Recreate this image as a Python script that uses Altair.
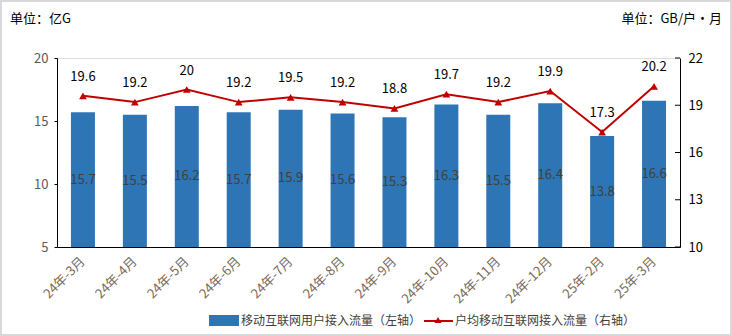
import altair as alt
import pandas as pd

months = ["24年-3月", "24年-4月", "24年-5月", "24年-6月", "24年-7月", "24年-8月",
          "24年-9月", "24年-10月", "24年-11月", "24年-12月", "25年-2月", "25年-3月"]
total_traffic = [15.7, 15.5, 16.2, 15.7, 15.9, 15.6, 15.3, 16.3, 15.5, 16.4, 13.8, 16.6]
per_user = [19.6, 19.2, 20.0, 19.2, 19.5, 19.2, 18.8, 19.7, 19.2, 19.9, 17.3, 20.2]
left_ticks = [5, 10, 15, 20]
right_ticks = [10, 13, 16, 19, 22]

df = pd.DataFrame({"month": months, "total": total_traffic, "per": per_user})
df["base"] = 5
df["mid"] = [(v + 5) / 2 for v in total_traffic]
rt = pd.DataFrame({"t": right_ticks})
one = pd.DataFrame({"a": [0]})

FONT = "Noto Sans CJK SC"
W, H = 623, 189
BLUE = "#2E75B6"
RED = "#C00000"

xenc = alt.X("month:N", sort=months, title=None,
             scale=alt.Scale(paddingInner=0, paddingOuter=0),
             axis=alt.Axis(labelAngle=-45, labelAlign="right", labelBaseline="middle",
                           labelPadding=12, ticks=False, domainColor="#000000",
                           labelColor="#7a6a5a", labelFontSize=13, labelFont=FONT))

yleft = alt.Scale(domain=[5, 20], nice=False, zero=False)
yright = alt.Scale(domain=[10, 22], nice=False, zero=False)

bars = alt.Chart(df).mark_bar(size=24, color=BLUE, clip=True).encode(
    x=xenc,
    y=alt.Y("total:Q", scale=yleft, title=None,
            axis=alt.Axis(values=left_ticks, grid=False, domainColor="#000000",
                          tickColor="#000000", tickSize=3, labelColor="#595959",
                          labelFontSize=13, labelFont=FONT, labelPadding=6)),
    y2="base:Q",
)

bar_labels = alt.Chart(df).mark_text(font=FONT, fontSize=13, color="#404040",
                                     baseline="middle").encode(
    x=alt.X("month:N", sort=months),
    y=alt.Y("mid:Q", scale=yleft, axis=None),
    text=alt.Text("total:Q", format=".1f"),
)

line = alt.Chart(df).mark_line(color=RED, strokeWidth=2).encode(
    x=alt.X("month:N", sort=months),
    y=alt.Y("per:Q", scale=yright, title=None,
            axis=alt.Axis(values=right_ticks, grid=False, orient="right",
                          domainColor="#000000", ticks=False, labelColor="#000000",
                          labelFontSize=13, labelFont=FONT, labelPadding=8)),
)

pts = alt.Chart(df).mark_point(shape="triangle-up", filled=True, color=RED, size=60,
                               opacity=1).encode(
    x=alt.X("month:N", sort=months),
    y=alt.Y("per:Q", scale=yright, axis=None),
)

line_labels = alt.Chart(df).mark_text(font=FONT, fontSize=13, color="#000000",
                                      baseline="middle", dy=-19).encode(
    x=alt.X("month:N", sort=months),
    y=alt.Y("per:Q", scale=yright, axis=None),
    text=alt.Text("per:Q", format=".1~f"),
)

rticks = alt.Chart(rt).mark_rule(color="#000000").encode(
    x=alt.value(W - 5), x2=alt.value(W),
    y=alt.Y("t:Q", scale=yright, axis=None),
)

title_l = alt.Chart(one).mark_text(font=FONT, fontSize=13, color="#000000",
                                   align="left", baseline="middle").encode(
    x=alt.value(-47), y=alt.value(-39), text=alt.value("单位：亿G"))
title_r = alt.Chart(one).mark_text(font=FONT, fontSize=13, color="#000000",
                                   align="right", baseline="middle").encode(
    x=alt.value(665), y=alt.value(-39), text=alt.value("单位：GB/户・月"))

leg_rect = alt.Chart(one).mark_rect(color=BLUE).encode(
    x=alt.value(152), x2=alt.value(182), y=alt.value(257), y2=alt.value(268))
leg_t1 = alt.Chart(one).mark_text(font=FONT, fontSize=12, color="#404040",
                                  align="left", baseline="middle").encode(
    x=alt.value(184), y=alt.value(263), text=alt.value("移动互联网用户接入流量（左轴）"))
leg_line = alt.Chart(one).mark_rule(color=RED, strokeWidth=2).encode(
    x=alt.value(367), x2=alt.value(396), y=alt.value(263))
leg_tri = alt.Chart(one).mark_point(shape="triangle-up", filled=True, color=RED,
                                    size=50, opacity=1).encode(
    x=alt.value(381), y=alt.value(262))
leg_t2 = alt.Chart(one).mark_text(font=FONT, fontSize=12, color="#404040",
                                  align="left", baseline="middle").encode(
    x=alt.value(398), y=alt.value(263), text=alt.value("户均移动互联网接入流量（右轴）"))

frame = alt.Chart(one).mark_rect(fill=None, stroke="#d9d9d9", strokeWidth=2).encode(
    x=alt.value(-56), y=alt.value(-57), x2=alt.value(732 - 57 - 1), y2=alt.value(336 - 58 - 1))

chart = alt.layer(
    bars, line, bar_labels, pts, line_labels, rticks,
    title_l, title_r, leg_rect, leg_t1, leg_line, leg_tri, leg_t2, frame
).resolve_scale(y="independent").properties(
    width=W, height=H,
    autosize=alt.AutoSizeParams(type="none"),
    padding={"left": 57, "top": 58, "right": 52, "bottom": 89},
).configure_view(stroke=None).configure(background="#ffffff")

chart.save("out.html", embed_options={"renderer": "svg", "actions": False})
